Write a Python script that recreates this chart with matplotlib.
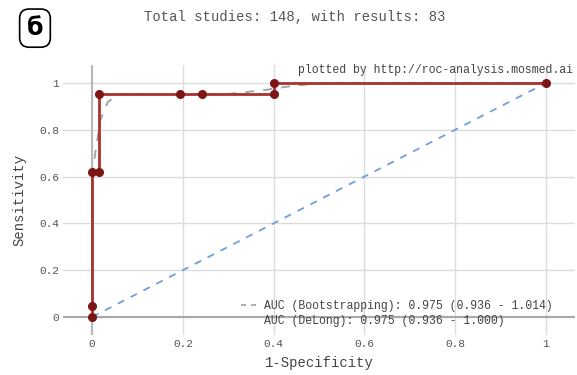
import matplotlib
matplotlib.use("Agg")
import matplotlib.pyplot as plt
from matplotlib.lines import Line2D

# ROC points (1-specificity, sensitivity)
fpr = [0, 0, 0, 0.015, 0.015, 0.194, 0.242, 0.4, 0.4, 1]
tpr = [0, 0.047, 0.62, 0.62, 0.953, 0.953, 0.953, 0.953, 1, 1]

# smoothed (bootstrapped) curve
fpr_smooth = [0, 0.007, 0.018, 0.035, 0.062, 0.30, 0.38, 0.45, 0.52, 1]
tpr_smooth = [0.60, 0.70, 0.84, 0.92, 0.953, 0.953, 0.97, 0.99, 1.0, 1.0]

ticks = [0, 0.2, 0.4, 0.6, 0.8, 1]
tick_labels = ['0', '0.2', '0.4', '0.6', '0.8', '1']

title = 'Total studies: 148, with results: 83'
auc_boot = 'AUC (Bootstrapping): 0.975 (0.936 - 1.014)'
auc_delong = 'AUC (DeLong): 0.975 (0.936 - 1.000)'

mono = 'Liberation Mono'
txt_col = '#555555'

fig = plt.figure(figsize=(5.77, 3.75), dpi=100)
ax = fig.add_axes([0.1092, 0.1067, 0.8873, 0.72])

ax.set_xlim(-0.064, 1.064)
ax.set_ylim(-0.077, 1.077)
ax.set_xticks(ticks)
ax.set_xticklabels(tick_labels)
ax.set_yticks(ticks)
ax.set_yticklabels(tick_labels)
ax.tick_params(length=0, pad=3, labelsize=8, labelcolor=txt_col)
for lab in ax.get_xticklabels() + ax.get_yticklabels():
    lab.set_family(mono)

for s in ax.spines.values():
    s.set_visible(False)
ax.grid(True, color='#dcdcdc', lw=1)
ax.set_axisbelow(True)
ax.axhline(0, color='#a8a8a8', lw=1.5, zorder=1)
ax.axvline(0, color='#b8b8b8', lw=1.5, zorder=1)

# reference diagonal
ax.plot([0, 1], [0, 1], ls=(0, (4, 4)), color='#6f9fdc', lw=1.3, zorder=2)

# smoothed curve
ax.plot(fpr_smooth, tpr_smooth, ls=(0, (5, 5)), color='#a0a0a0', lw=1.3, zorder=2)

# empirical ROC
ax.plot(fpr, tpr, color='#a83232', lw=2, marker='o', ms=5.5,
        mfc='#7d1515', mec='#7d1515', zorder=3)

ax.set_xlabel('1-Specificity', family=mono, fontsize=10, color='#444444', labelpad=5)
ax.set_ylabel('Sensitivity', family=mono, fontsize=10, color='#444444', labelpad=9)

ax.text(0.9965, 1.005, 'plotted by http://roc-analysis.mosmed.ai', transform=ax.transAxes,
        family=mono, fontsize=8.3, color='#444444', ha='right', va='top')

handles = [Line2D([], [], ls=(0, (3, 3)), color='#a0a0a0', lw=1.2),
           Line2D([], [], color='none')]
leg = ax.legend(handles, [auc_boot, auc_delong], loc='lower right',
                bbox_to_anchor=(0.967, 0.01), frameon=False, borderpad=0,
                handlelength=1.6, handletextpad=0.4, labelspacing=0.25,
                prop={'family': mono, 'size': 8.3})
for t in leg.get_texts():
    t.set_color('#444444')

fig.text(0.511, 0.955, title, family=mono, fontsize=10, color='#555555',
         ha='center', va='center')

fig.text(0.0606, 0.925, 'б', fontsize=17, fontweight='bold', ha='center', va='center',
         family='DejaVu Sans',
         bbox=dict(boxstyle='round,pad=0.3,rounding_size=0.4', fc='white', ec='black', lw=1.2))

fig.savefig('out.png', dpi=100)
